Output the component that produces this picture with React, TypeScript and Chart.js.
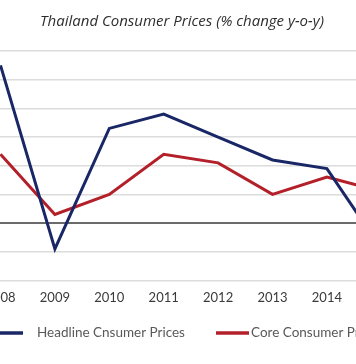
import React, { useEffect, useRef } from "react";
import { Chart, registerables } from "chart.js";

Chart.register(...registerables);

const years = ["2008", "2009", "2010", "2011", "2012", "2013", "2014", "2015"];
const headlineCPI = [5.5, -0.9, 3.3, 3.8, 3.0, 2.2, 1.9, -0.9];
const coreCPI = [2.4, 0.3, 1.0, 2.4, 2.1, 1.0, 1.6, 1.1];
const titleText = "Thailand Consumer Prices (% change y-o-y)";
const seriesNames = ["Headline Cnsumer Prices", "Core Consumer Prices"];
const seriesColors = ["#1a2766", "#b3202a"];

const CANVAS_W = 480;
const CANVAS_H = 364;
const SHIFT = 40; // canvas is shifted left to reproduce the cropped view

const overlayPlugin = {
  id: "overlayText",
  afterDraw(chart: any) {
    const ctx = chart.ctx as CanvasRenderingContext2D;
    ctx.save();
    // title
    ctx.font = "italic 15px 'Open Sans'";
    ctx.fillStyle = "#2e2e2e";
    ctx.textAlign = "center";
    ctx.textBaseline = "middle";
    ctx.fillText(titleText, 182 + SHIFT, 22);
    // legend
    const items = [
      { x0: -11, x1: 23, tx: 37 },
      { x0: 216, x1: 249, tx: 251 },
    ];
    const ly = 333;
    ctx.font = "13.5px Lato";
    ctx.textAlign = "left";
    chart.data.datasets.forEach((ds: any, i: number) => {
      const it = items[i];
      ctx.strokeStyle = ds.borderColor;
      ctx.lineWidth = 3.5;
      ctx.beginPath();
      ctx.moveTo(it.x0 + SHIFT, ly);
      ctx.lineTo(it.x1 + SHIFT, ly);
      ctx.stroke();
      ctx.fillStyle = "#595959";
      ctx.fillText(ds.label, it.tx + SHIFT, ly);
    });
    ctx.restore();
  },
};

export default function App() {
  const ref = useRef<HTMLCanvasElement | null>(null);
  useEffect(() => {
    if (!ref.current) return;
    const chart = new Chart(ref.current, {
      type: "line",
      data: {
        labels: years,
        datasets: [
          {
            label: seriesNames[0],
            data: headlineCPI,
            borderColor: seriesColors[0],
            backgroundColor: seriesColors[0],
            borderWidth: 3,
            pointRadius: 0,
            tension: 0,
          },
          {
            label: seriesNames[1],
            data: coreCPI,
            borderColor: seriesColors[1],
            backgroundColor: seriesColors[1],
            borderWidth: 3,
            pointRadius: 0,
            tension: 0,
          },
        ],
      },
      options: {
        animation: false,
        responsive: false,
        devicePixelRatio: 1,
        layout: { padding: { left: 13.3, right: 31.5, top: 51, bottom: 43.6 } },
        plugins: { legend: { display: false }, title: { display: false }, tooltip: { enabled: false } },
        scales: {
          x: {
            type: "category",
            offset: true,
            grid: { display: false, drawTicks: false },
            border: { display: false },
            ticks: { color: "#3a3a3a", font: { family: "Lato", size: 13 }, padding: 10, autoSkip: false, maxRotation: 0 },
            afterFit: (scale: any) => {
              scale.height = 40;
            },
          },
          y: {
            min: -2,
            max: 6,
            ticks: { display: false, stepSize: 1 },
            grid: {
              drawTicks: false,
              color: (c: any) => (c.tick && c.tick.value === 0 ? "#6a6a6a" : "#dcdcdc"),
              lineWidth: (c: any) => (c.tick && c.tick.value === 0 ? 2 : 1.5),
            },
            border: { display: false },
            afterFit: (scale: any) => {
              scale.width = 0;
            },
          },
        },
      },
      plugins: [overlayPlugin],
    });
    return () => chart.destroy();
  }, []);
  return (
    <div
      style={{
        position: "fixed",
        left: 0,
        top: 0,
        width: 356,
        height: 364,
        overflow: "hidden",
        background: "#ffffff",
      }}
    >
      <canvas
        ref={ref}
        width={CANVAS_W}
        height={CANVAS_H}
        style={{ position: "absolute", left: -SHIFT, top: 0, width: CANVAS_W, height: CANVAS_H }}
      />
    </div>
  );
}
